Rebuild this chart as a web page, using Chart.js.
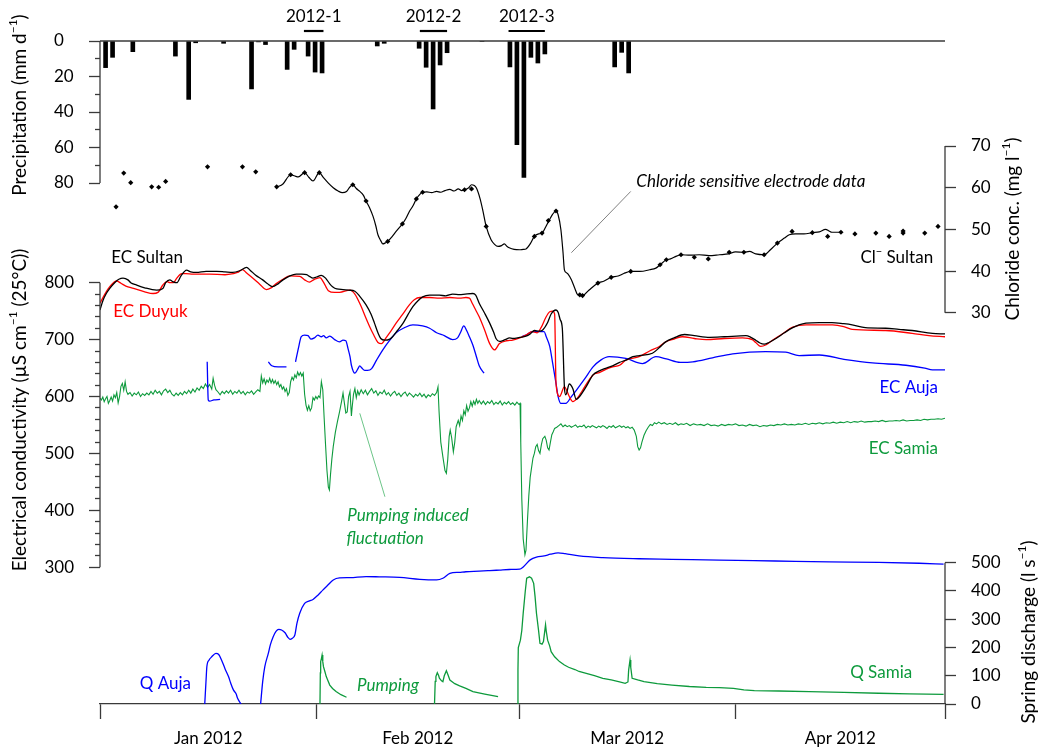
<!DOCTYPE html>
<html>
<head>
<meta charset="utf-8">
<title>Spring EC, chloride and discharge 2012</title>
<script src="https://cdn.jsdelivr.net/npm/chart.js@4.4.1/dist/chart.umd.min.js"></script>
<style>
  html, body { margin: 0; padding: 0; background: #fff; }
</style>
</head>
<body>
<canvas id="chart" width="1040" height="752"></canvas>
<script>
// x values are days since 1 Jan 2012
const monthStarts = [0, 31, 60, 91, 121];
const monthNames = ['Jan 2012', 'Feb 2012', 'Mar 2012', 'Apr 2012'];

const precipTicks = [0, 20, 40, 60, 80];
const clTicks = [30, 40, 50, 60, 70];
const ecTicks = [300, 400, 500, 600, 700, 800];
const qTicks = [0, 100, 200, 300, 400, 500];

// daily precipitation (mm)
const precipDays = [0.8, 1.8, 4.7, 10.8, 12.7, 13.7, 17.7, 21.7, 22.7, 23.7, 26.8, 27.8, 29.8, 30.8, 31.8,
  39.7, 40.7, 45.7, 46.7, 47.7, 48.7, 49.7, 54.7, 58.7, 59.7, 60.7, 61.7, 62.7, 63.7, 73.7, 74.7, 75.7];
const precipMM = [15.0, 9.2, 6.0, 8.5, 32.9, 1.0, 1.3, 27.0, 0.5, 2.0, 16.0, 4.7, 8.5, 17.5, 18.0,
  2.8, 1.3, 4.1, 14.8, 38.3, 13.5, 6.6, 0.3, 14.6, 58.4, 76.8, 9.2, 12.4, 7.3, 14.6, 6.4, 18.0];

// rain events marked above the bars
const eventNames = ['2012-1', '2012-2', '2012-3'];
const eventStart = [29.2, 45.8, 58.5];
const eventEnd = [32.0, 49.7, 63.7];

// chloride, Sultan spring (mg/l): lab samples and electrode record
const clSamples = [[2.3, 55.4], [3.4, 63.5], [4.4, 61.2], [7.4, 60.2], [8.4, 60.1], [9.4, 61.5], [15.4, 65.0],
  [20.4, 65.0], [22.3, 63.8], [25.3, 60.2], [27.3, 63.1], [29.3, 63.6], [31.4, 63.6], [36.2, 60.7], [38.1, 56.8],
  [41.2, 47.1], [43.3, 51.3], [45.3, 57.3], [46.2, 58.9], [52.2, 59.5], [53.2, 59.7], [55.3, 50.7], [62.2, 48.3],
  [63.3, 49.1], [64.2, 52.1], [65.3, 54.4], [68.7, 34.3], [69.1, 34.1], [71.3, 37.1], [73.2, 38.5], [76.0, 39.9],
  [80.2, 41.5], [81.1, 42.7], [83.2, 43.9], [85.1, 43.3], [87.1, 42.9], [90.1, 44.5], [92.2, 44.5], [95.1, 43.9],
  [97.0, 46.7], [99.1, 49.5], [102.0, 49.2], [104.2, 48.3], [106.1, 49.3], [108.1, 48.9], [111.1, 49.1],
  [113.0, 48.3], [115.0, 49.6], [115.0, 49.1], [118.1, 49.1], [120.0, 50.7]];

const clElectrode = [[25.3, 60.1], [26.2, 60.9], [27.3, 63.1], [27.9, 62.8], [28.4, 62.6], [29.3, 63.6], [29.9, 62.5],
  [30.5, 61.6], [31.4, 63.6], [32.0, 62.4], [32.7, 61.1], [33.4, 60.0], [34.1, 59.2], [34.7, 58.8], [35.3, 59.1],
  [35.8, 60.2], [36.2, 60.7], [36.7, 59.8], [37.2, 59.1], [37.7, 58.2], [38.1, 56.8], [38.6, 55.2], [39.1, 53.1],
  [39.5, 50.8], [39.8, 48.7], [40.2, 47.3], [40.5, 46.5], [40.9, 46.8], [41.2, 47.1], [41.8, 48.2], [42.4, 49.5],
  [43.3, 51.3], [43.8, 52.6], [44.3, 54.3], [44.8, 55.6], [45.3, 57.3], [45.8, 58.4], [46.2, 58.9], [46.8, 59.0],
  [47.5, 58.8], [48.2, 59.1], [48.8, 58.9], [49.4, 59.3], [50.1, 59.6], [50.7, 59.2], [51.3, 59.7], [51.8, 59.3],
  [52.2, 59.5], [52.8, 60.0], [53.2, 60.7], [53.6, 60.5], [53.9, 59.9], [54.4, 57.5], [54.8, 54.7], [55.3, 50.7],
  [56.0, 47.5], [56.5, 46.4], [57.0, 45.9], [57.5, 46.1], [57.9, 46.5], [58.3, 45.9], [58.6, 45.6], [59.3, 45.2],
  [60.1, 45.1], [60.6, 45.2], [61.0, 45.3], [61.6, 46.5], [62.2, 48.3], [62.8, 48.9], [63.3, 49.1], [63.8, 50.5],
  [64.3, 52.1], [64.8, 53.6], [65.3, 54.4], [65.6, 53.5], [66.0, 49.9], [66.3, 44.5], [66.5, 40.3], [66.8, 39.6],
  [67.0, 39.3], [67.5, 37.9], [68.0, 35.8], [68.4, 34.3], [69.1, 34.1], [70.0, 35.4], [71.3, 37.1], [72.2, 37.6],
  [73.2, 38.5], [74.2, 38.8], [75.0, 39.4], [76.0, 39.9], [77.3, 39.9], [78.7, 40.3], [79.6, 40.7], [80.2, 41.5],
  [81.1, 42.7], [81.7, 42.9], [82.2, 43.3], [83.2, 43.9], [84.5, 43.8], [85.8, 43.9], [87.2, 43.7], [88.7, 43.9],
  [90.0, 44.1], [91.0, 44.6], [92.2, 44.5], [93.0, 44.7], [93.9, 44.1], [95.1, 43.9], [96.0, 45.1], [97.0, 46.7],
  [98.0, 47.9], [98.7, 48.7], [99.6, 48.9], [100.8, 48.9], [102.0, 49.2], [103.0, 49.4], [103.9, 50.0],
  [104.4, 49.6], [104.8, 49.3], [106.1, 49.3]];

// electrical conductivity (uS/cm at 25 C)
const ecSultan = [[0, 752], [0.4, 768], [0.9, 781], [1.4, 790], [2.1, 800], [2.7, 806], [3.3, 808], [4.0, 805],
  [4.4, 800], [5.2, 796], [6.4, 791], [8.1, 787], [9.0, 790], [9.4, 800], [10.0, 805], [10.4, 802], [11.0, 800],
  [11.6, 812], [12.4, 822], [13.0, 819], [13.8, 818], [15.2, 820], [16.7, 820], [17.9, 819], [19.0, 818],
  [20.0, 821], [21.0, 827], [21.5, 822], [22.3, 813], [23.3, 805], [24.0, 798], [24.7, 793], [25.5, 798],
  [26.2, 805], [27.2, 812], [28.1, 815], [28.9, 815], [29.6, 814], [30.0, 811], [30.5, 808], [31.0, 810],
  [31.7, 813], [32.3, 808], [32.9, 798], [33.3, 793], [33.9, 789], [34.8, 788], [35.6, 787], [36.5, 785],
  [37.2, 776], [38.1, 761], [38.8, 745], [39.3, 729], [39.8, 712], [40.2, 702], [40.8, 699], [41.5, 701],
  [41.9, 705], [42.6, 716], [43.4, 729], [44.1, 744], [44.8, 758], [45.5, 768], [46.2, 775], [47.2, 778],
  [48.6, 778], [49.5, 777], [50.5, 780], [51.5, 779], [52.3, 780], [53.4, 781], [53.8, 778], [54.3, 764],
  [55.1, 746], [55.8, 729], [56.4, 712], [56.7, 702], [57.2, 697], [57.6, 698], [58.2, 701], [58.6, 703],
  [59.1, 702], [60.1, 704], [61.0, 706], [61.6, 710], [62.2, 716], [62.9, 715], [63.4, 717], [64.1, 730],
  [64.6, 745], [65.3, 752], [65.6, 748], [65.9, 735], [66.2, 720], [66.5, 617], [66.7, 603], [67.2, 622],
  [67.7, 614], [68.2, 595], [68.6, 599], [69.6, 617], [70.6, 638], [71.5, 645], [72.5, 650], [73.4, 654],
  [74.4, 660], [75.3, 664], [76.3, 670], [77.2, 672], [79.1, 676], [80.1, 686], [81.0, 696], [82.2, 703],
  [83.7, 709], [85.1, 707], [87.3, 704], [89.4, 705], [92.5, 707], [93.2, 704], [93.9, 699], [94.5, 694],
  [95.1, 692], [95.8, 695], [96.8, 702], [98.0, 712], [99.2, 721], [100.1, 726], [101.1, 729], [103.0, 730],
  [104.8, 730], [106.5, 728], [107.7, 726], [109.6, 721], [112.5, 720], [114.4, 718], [116.3, 716],
  [119.2, 711], [121, 710]];

const ecDuyuk = [[0, 764], [0.7, 780], [1.4, 793], [2.4, 803], [3.0, 799], [3.7, 794], [4.8, 790], [6.4, 784],
  [7.6, 781], [8.3, 783], [9.0, 796], [9.6, 802], [10.0, 800], [10.5, 800], [11.0, 808], [11.7, 816],
  [12.3, 816], [13.3, 815], [15.7, 815], [17.9, 814], [19.1, 816], [19.7, 818], [20.4, 823], [21.0, 817],
  [21.9, 808], [22.9, 797], [23.8, 788], [24.5, 791], [25.3, 799], [26.2, 806], [27.2, 812], [28.6, 811],
  [29.3, 805], [30.0, 801], [30.7, 806], [31.5, 809], [32.0, 801], [32.7, 786], [33.6, 783], [34.3, 783],
  [35.8, 787], [36.5, 780], [37.4, 758], [38.0, 740], [38.6, 723], [39.2, 708], [39.8, 695], [40.3, 693],
  [41.0, 704], [41.6, 714], [42.4, 729], [43.3, 744], [44.3, 761], [45.0, 770], [45.8, 774], [47.2, 774],
  [48.6, 773], [50.1, 774], [51.5, 773], [52.4, 774], [52.9, 773], [53.3, 764], [53.8, 752], [54.3, 740],
  [55.1, 716], [55.8, 693], [56.5, 682], [57.2, 693], [58.2, 698], [59.1, 699], [60.1, 703], [61.0, 708],
  [61.9, 714], [62.6, 712], [63.2, 722], [63.8, 738], [64.4, 749], [64.8, 750], [65.1, 745], [65.3, 623],
  [65.8, 600], [66.5, 617], [67.2, 600], [67.7, 591], [68.4, 598], [69.1, 611], [70.6, 638], [71.5, 642],
  [72.5, 648], [73.4, 652], [74.4, 655], [75.3, 664], [77.2, 670], [78.7, 680], [80.1, 688], [81.0, 696],
  [82.2, 701], [83.4, 705], [85.1, 702], [86.8, 700], [89.4, 702], [92.0, 703], [93.4, 700], [93.9, 695],
  [94.6, 688], [95.4, 691], [96.3, 699], [97.7, 710], [99.2, 722], [101.1, 726], [104.9, 726], [106.5, 723],
  [107.7, 718], [112.5, 716], [116.3, 711], [118.7, 707], [121, 705]];

const ecAuja = [[15.35, 661], [15.5, 594], [15.7, 592], [16.3, 594], [17.2, 595], [20, null],
  [24.1, 661], [24.6, 654], [25.5, 652], [26.7, 652], [27.5, null],
  [28.0, 661], [28.5, 690], [28.8, 705], [29.3, 708], [29.8, 707], [30.2, 701], [30.7, 703], [31.2, 708],
  [31.7, 705], [32.0, 707], [32.4, 703], [32.9, 706], [33.6, 700], [34.3, 696], [34.8, 699], [35.2, 698],
  [35.5, 685], [35.8, 670], [36.0, 655], [36.5, 641], [36.9, 648], [37.2, 654], [37.5, 650], [37.9, 646],
  [38.3, 646], [38.9, 649], [39.6, 664], [40.5, 682], [41.5, 699], [42.4, 712], [43.6, 721], [44.8, 726],
  [46.2, 724], [47.2, 720], [48.2, 712], [49.3, 707], [50.5, 700], [51.2, 703], [51.6, 712], [52.1, 724],
  [52.5, 716], [52.9, 705], [53.4, 690], [53.9, 670], [54.3, 654], [55.0, 641], [57, null],
  [60.5, 706], [61.0, 708], [61.9, 714], [62.9, 714], [63.6, 714], [63.9, 705], [64.4, 688], [64.8, 660],
  [65.3, 623], [65.6, 600], [66.0, 588], [66.7, 588], [67.5, 600], [68.2, 611], [69.4, 631], [70.6, 652],
  [71.7, 664], [72.9, 670], [75.3, 667], [77.7, 658], [79.6, 670], [81.1, 666], [83.1, 660], [84.9, 661],
  [87.7, 668], [90.6, 675], [95.3, 679], [98.2, 678], [100.1, 672], [103.0, 673], [106.8, 665], [110.6, 659],
  [115.4, 655], [118.1, 650], [119.2, 647], [121, 647]];

const ecSamia = [[0, 597], [0.2, 594], [0.4, 599], [0.6, 591], [0.8, 596], [1.0, 600], [1.2, 588], [1.4, 593],
  [1.6, 599], [1.8, 592], [2.0, 603], [2.2, 598], [2.4, 607], [2.6, 589], [2.8, 600], [3.0, 618], [3.2, 623],
  [3.4, 611], [3.6, 626], [3.8, 609], [4.0, 604], [4.3, 607], [4.6, 601], [4.9, 606], [5.2, 603], [5.5, 608],
  [5.8, 600], [6.1, 605], [6.4, 602], [6.7, 606], [7.0, 603], [7.3, 609], [7.6, 604], [7.9, 611], [8.2, 606],
  [8.5, 609], [8.8, 603], [9.1, 610], [9.4, 613], [9.7, 607], [10.0, 611], [10.3, 604], [10.6, 601], [10.9, 606],
  [11.2, 602], [11.5, 607], [11.8, 603], [12.1, 609], [12.4, 605], [12.7, 611], [13.0, 606], [13.3, 613],
  [13.6, 608], [13.9, 615], [14.2, 611], [14.5, 618], [14.8, 614], [15.1, 622], [15.4, 616], [15.7, 621],
  [16.0, 613], [16.2, 632], [16.4, 620], [16.6, 612], [16.9, 608], [17.2, 603], [17.5, 609], [17.8, 605],
  [18.1, 610], [18.4, 606], [18.7, 611], [19.0, 604], [19.3, 609], [19.6, 606], [19.9, 611], [20.2, 605],
  [20.5, 609], [20.8, 603], [21.1, 608], [21.4, 606], [21.7, 610], [22.0, 604], [22.3, 608], [22.6, 612],
  [22.9, 609], [23.1, 636], [23.3, 624], [23.5, 631], [23.7, 622], [23.9, 629], [24.1, 625], [24.3, 632],
  [24.5, 624], [24.7, 630], [24.9, 623], [25.1, 628], [25.3, 621], [25.5, 626], [25.7, 617], [25.9, 621],
  [26.1, 613], [26.3, 617], [26.5, 609], [26.7, 614], [26.9, 602], [27.1, 607], [27.3, 626], [27.5, 634],
  [27.7, 629], [27.9, 638], [28.1, 633], [28.3, 643], [28.5, 637], [28.7, 642], [28.9, 636], [29.1, 641],
  [29.3, 604], [29.5, 585], [29.7, 576], [29.9, 584], [30.1, 575], [30.3, 580], [30.5, 598], [30.7, 594],
  [30.9, 600], [31.1, 596], [31.3, 601], [31.5, 598], [31.7, 626], [31.9, 612], [32.1, 562], [32.3, 515],
  [32.5, 470], [32.7, 441], [32.85, 436], [33.0, 462], [33.2, 490], [33.4, 512], [33.7, 537], [34.0, 556],
  [34.3, 573], [34.6, 592], [34.8, 606], [35.0, 588], [35.2, 571], [35.4, 573], [35.6, 600], [35.8, 609],
  [36.0, 566], [36.1, 580], [36.3, 604], [36.5, 614], [36.7, 598], [36.9, 610], [37.1, 603], [37.4, 612],
  [37.7, 605], [38.0, 611], [38.3, 603], [38.6, 609], [38.9, 614], [39.2, 606], [39.5, 610], [39.8, 602],
  [40.1, 608], [40.4, 605], [40.7, 611], [41.0, 603], [41.3, 607], [41.6, 601], [41.9, 606], [42.2, 609],
  [42.5, 602], [42.8, 606], [43.1, 600], [43.4, 605], [43.7, 608], [44.0, 601], [44.3, 606], [44.6, 603],
  [44.9, 599], [45.2, 604], [45.5, 601], [45.8, 606], [46.1, 600], [46.4, 604], [46.7, 598], [47.0, 603],
  [47.3, 600], [47.6, 605], [47.9, 602], [48.2, 607], [48.4, 617], [48.55, 574], [48.8, 520], [49.1, 494],
  [49.4, 470], [49.6, 465], [49.8, 490], [50.0, 530], [50.15, 541], [50.35, 528], [50.6, 503], [50.8, 520],
  [51.0, 547], [51.3, 558], [51.5, 549], [51.7, 566], [51.9, 558], [52.1, 575], [52.3, 568], [52.5, 584],
  [52.7, 574], [52.9, 580], [53.1, 591], [53.3, 583], [53.5, 592], [53.7, 586], [53.9, 595], [54.1, 588],
  [54.3, 593], [54.6, 587], [54.9, 592], [55.2, 586], [55.5, 591], [55.8, 588], [56.1, 593], [56.4, 586],
  [56.7, 590], [57.0, 587], [57.3, 592], [57.6, 585], [57.9, 590], [58.2, 587], [58.5, 591], [58.8, 586],
  [59.1, 589], [59.4, 585], [59.7, 590], [60.0, 586], [60.15, 588], [60.25, 520], [60.4, 420], [60.6, 350],
  [60.85, 322], [61.0, 330], [61.2, 380], [61.4, 425], [61.6, 458], [61.8, 475], [62.0, 492], [62.2, 500],
  [62.4, 512], [62.6, 516], [62.8, 505], [63.0, 500], [63.2, 515], [63.4, 526], [63.7, 530], [63.9, 523],
  [64.1, 510], [64.3, 506], [64.5, 520], [64.7, 533], [64.9, 538], [65.1, 544], [65.4, 546], [65.7, 549],
  [66.0, 552], [66.3, 547], [66.6, 550], [66.9, 547], [67.2, 549], [67.5, 546], [67.8, 548], [68.1, 550],
  [68.4, 546], [68.7, 548], [69.0, 547], [69.3, 550], [69.6, 545], [69.9, 548], [70.2, 546], [70.5, 549],
  [70.8, 547], [71.1, 545], [71.4, 548], [71.7, 546], [72.0, 549], [72.3, 547], [72.6, 544], [72.9, 548],
  [73.2, 546], [73.5, 549], [73.8, 545], [74.1, 547], [74.4, 549], [74.7, 546], [75.0, 548], [75.3, 545],
  [75.6, 547], [75.9, 544], [76.2, 546], [76.5, 541], [76.8, 530], [77.0, 512], [77.2, 506], [77.4, 510],
  [77.6, 520], [77.9, 532], [78.2, 540], [78.5, 546], [78.8, 551], [79.1, 549], [79.4, 554], [79.7, 552],
  [80.0, 555], [80.4, 552], [80.8, 554], [81.2, 551], [81.6, 553], [82.0, 551], [82.4, 554], [82.8, 550],
  [83.2, 552], [83.6, 551], [84.0, 553], [84.5, 549], [85.0, 552], [85.5, 550], [86.0, 551], [86.5, 549],
  [87.0, 552], [87.5, 549], [88.0, 550], [88.5, 548], [89.0, 551], [89.5, 549], [90.0, 551], [90.5, 550],
  [91.0, 552], [91.5, 549], [92.0, 550], [92.5, 548], [93.0, 551], [93.5, 549], [94.0, 550], [94.5, 547],
  [95.0, 549], [95.5, 548], [96.0, 550], [96.5, 549], [97.0, 551], [97.5, 550], [98.0, 552], [98.5, 550],
  [99.0, 551], [99.5, 550], [100.0, 552], [100.5, 551], [101.0, 553], [101.5, 551], [102.0, 553],
  [102.5, 552], [103.0, 554], [103.5, 552], [104.0, 554], [104.5, 553], [105.0, 555], [105.5, 553],
  [106.0, 555], [106.5, 554], [107.0, 556], [107.5, 554], [108.0, 556], [108.5, 555], [109.0, 557],
  [109.5, 555], [110.0, 556], [110.5, 556], [111.0, 557], [111.5, 556], [112.0, 558], [112.5, 556],
  [113.0, 557], [113.5, 557], [114.0, 558], [114.5, 557], [115.0, 559], [115.5, 557], [116.0, 558],
  [116.5, 558], [117.0, 559], [117.5, 558], [118.0, 560], [118.5, 559], [119.0, 560], [119.5, 560],
  [120.0, 561], [120.5, 560], [121.0, 562]];

// spring discharge (l/s)
const qAuja = [[15.0, 0], [15.2, 90], [15.3, 132], [15.6, 155], [16.0, 167], [16.6, 179], [17.0, 175],
  [17.4, 156], [17.9, 125], [18.4, 97], [18.7, 75], [19.1, 50], [19.5, 35], [19.7, 20], [20.2, 0], [21.5, null],
  [23.0, 0], [23.3, 80], [23.6, 132], [24.1, 179], [24.4, 210], [24.8, 238], [25.2, 257], [25.6, 264],
  [26.0, 262], [26.5, 252], [26.9, 236], [27.2, 229], [27.5, 232], [27.9, 244], [28.2, 285], [28.6, 321],
  [29.3, 356], [30.0, 365], [30.5, 370], [31.2, 385], [31.9, 403], [32.6, 420], [33.4, 439], [34.3, 446],
  [35.8, 447], [38.1, 451], [40.0, 450], [42.9, 448], [45.8, 441], [48.2, 439], [49.1, 445], [50.1, 462],
  [51.5, 466], [52.4, 468], [54.3, 470], [55.8, 472], [57.2, 474], [58.6, 476], [60.1, 477], [60.6, 485],
  [61.6, 510], [62.5, 520], [63.6, 524], [64.5, 530], [65.6, 535], [66.6, 532], [68.6, 524], [72.0, 518],
  [77.2, 514], [81.9, 512], [88.7, 509], [96.7, 506], [104.4, 503], [111.5, 501], [117.3, 498], [120.8, 495]];

const qSamia = [[31.5, 0], [31.55, 110], [31.6, 150], [31.7, 160], [31.8, 173], [31.9, 150], [32.0, 132],
  [32.2, 115], [32.4, 97], [32.6, 85], [32.9, 67], [33.3, 55], [33.8, 44], [34.5, 33], [35.3, 24], [40, null],
  [47.9, 0], [48.0, 80], [48.1, 97], [48.3, 111], [48.5, 100], [48.6, 91], [48.9, 82], [49.1, 79], [49.3, 100],
  [49.6, 118], [49.8, 105], [50.1, 85], [50.8, 72], [51.5, 64], [52.4, 55], [53.4, 44], [55.1, 35], [57.0, 26],
  [58, null],
  [59.8, 0], [59.85, 120], [59.9, 200], [60.2, 226], [60.4, 260], [60.6, 321], [60.9, 400], [61.1, 445],
  [61.5, 450], [61.8, 445], [62.1, 427], [62.3, 380], [62.5, 321], [62.8, 260], [63.0, 215], [63.3, 212],
  [63.5, 221], [63.8, 280], [63.9, 258], [64.1, 226], [64.4, 205], [64.6, 185], [65.1, 167], [65.8, 150],
  [66.5, 138], [67.1, 130], [68.0, 122], [68.6, 115], [69.5, 109], [70.8, 100], [72.0, 91], [73.2, 85],
  [74.4, 78], [75.2, 73], [75.6, 78], [75.7, 120], [75.9, 156], [76.0, 130], [76.2, 91], [77.0, 85], [77.9, 79],
  [79.8, 72], [81.9, 67], [84.4, 62], [86.8, 59], [88.7, 58], [90.7, 55], [92.2, 50], [93.7, 47], [97.2, 46],
  [101.6, 44], [106.5, 41], [111.5, 38], [115.9, 36], [120.8, 34]];

const FONT = 'Lato, "Open Sans", sans-serif';
const AXIS = '#3a3a3a';
const BLACK = '#000000';
const RED = '#ff0000';
const BLUE = '#0000ff';
const GREEN = '#0d9a3c';

// plot area in canvas pixels; every y axis spans it, only part of it is drawn
const AREA = { top: 41, bottom: 704, left: 100, right: 945 };

// min/max that put value v1 at pixel p1 and v2 at pixel p2
function rangeFor(v1, p1, v2, p2) {
  const k = (v2 - v1) / (p2 - p1);
  const a = v1 + (AREA.top - p1) * k;
  const b = v1 + (AREA.bottom - p1) * k;
  return { min: Math.min(a, b), max: Math.max(a, b) };
}

const zeroWidth = s => { s.width = 0; };
const useTicks = list => s => { s.ticks = list.map(v => ({ value: v })); };

const xTicks = [];
const xLabels = [];
monthStarts.forEach((d, i) => {
  xTicks.push(d); xLabels.push('');
  if (i < monthNames.length) {
    xTicks.push((d + monthStarts[i + 1]) / 2);
    xLabels.push(monthNames[i]);
  }
});

function tickOpts(len) {
  return { drawOnChartArea: false, offset: false, tickLength: len, tickWidth: 1.3, tickColor: AXIS };
}

function yScale(position, range, ticks, extra) {
  return Object.assign({
    type: 'linear', position, min: range.min, max: range.max,
    afterFit: zeroWidth,
    afterBuildTicks: useTicks(ticks),
    grid: tickOpts(11),
    border: { display: false },
    ticks: { padding: 15, font: { size: 17 }, callback: v => String(v) }
  }, extra || {});
}

const pRange = rangeFor(0, 41, 80, 183);
const ecRange = rangeFor(800, 282.7, 300, 567.3);
const clRange = rangeFor(70, 146, 30, 312.7);
const qRange = rangeFor(500, 562.7, 0, 704);

const minorP = [10, 30, 50, 70];
const minorEC = [];
for (let v = 320; v < 800; v += 20) if (v % 100) minorEC.push(v);

function series(data, color, axis, extra) {
  return Object.assign({
    type: 'line', data, yAxisID: axis, borderColor: color, borderWidth: 1.3,
    pointRadius: 0, cubicInterpolationMode: 'monotone', spanGaps: false
  }, extra || {});
}

// rich text: parts are [text, isSuperscript]
function drawRich(ctx, parts, x, y, size, align, italic) {
  const style = italic ? 'italic ' : '';
  const big = `${style}${size}px ${FONT}`;
  const small = `${style}${Math.round(size * 0.64)}px ${FONT}`;
  let w = 0;
  parts.forEach(([t, sup]) => { ctx.font = sup ? small : big; w += ctx.measureText(t).width; });
  let cx = align === 'center' ? x - w / 2 : align === 'right' ? x - w : x;
  ctx.textAlign = 'left';
  ctx.textBaseline = 'middle';
  parts.forEach(([t, sup]) => {
    ctx.font = sup ? small : big;
    ctx.fillText(t, cx, sup ? y - size * 0.36 : y);
    cx += ctx.measureText(t).width;
  });
}

const notes = [
  { parts: [['EC Sultan']], axis: 'yEC', x: 1.6, y: 845, color: BLACK, align: 'left' },
  { parts: [['EC Duyuk']], axis: 'yEC', x: 1.9, y: 750, color: RED, align: 'left' },
  { parts: [['EC Auja']], axis: 'yEC', x: 120.0, y: 616, color: BLUE, align: 'right' },
  { parts: [['EC Samia']], axis: 'yEC', x: 120.0, y: 508, color: GREEN, align: 'right' },
  { parts: [['Cl'], ['−', true], [' Sultan']], axis: 'yCl', x: 119.3, y: 43.2, color: BLACK, align: 'right' },
  { parts: [['Chloride sensitive electrode data']], axis: 'yCl', x: 76.8, y: 61.4, color: BLACK, align: 'left', italic: true },
  { parts: [['Pumping induced']], axis: 'yEC', x: 35.4, y: 390.6, color: GREEN, align: 'left', italic: true },
  { parts: [['fluctuation']], axis: 'yEC', x: 35.3, y: 349.7, color: GREEN, align: 'left', italic: true },
  { parts: [['Q Auja']], axis: 'yQ', x: 5.7, y: 71, color: BLUE, align: 'left' },
  { parts: [['Pumping']], axis: 'yQ', x: 36.8, y: 65, color: GREEN, align: 'left', italic: true },
  { parts: [['Q Samia']], axis: 'yQ', x: 116.3, y: 113, color: GREEN, align: 'right' }
];

const leaders = [
  { axis: 'yCl', from: [76.0, 59.1], to: [67.5, 44.4], color: '#808080' },
  { axis: 'yEC', from: [37.2, 570.5], to: [40.8, 424], color: '#6cc588' }
];

const titles = [
  { parts: [['Precipitation (mm d'], ['−1', true], [')']], x: 20, y: 105 },
  { parts: [['Electrical conductivity (µS cm'], ['−1', true], [' (25°C))']], x: 20, y: 410 },
  { parts: [['Chloride conc. (mg l'], ['−1', true], [')']], x: 1013, y: 229 },
  { parts: [['Spring discharge (l s'], ['−1', true], [')']], x: 1029, y: 632 }
];

// zero-width side axes clip their labels to their own box; give the labels room.
// precipitation labels sit flush left from x = 54
const labelRoom = {
  id: 'labelRoom',
  afterLayout(chart) {
    Object.values(chart.scales).forEach(s => {
      if (s.options.position === 'left') s.left = s.id === 'yP' ? 54 : 0;
      if (s.options.position === 'right') s.right = chart.width;
    });
  }
};

const decor = {
  id: 'decor',
  afterDatasetsDraw(chart) {
    const { ctx, scales: s } = chart;
    const X = v => s.x.getPixelForValue(v);
    const left = X(0), right = X(121);
    const seg = (x1, y1, x2, y2) => { ctx.beginPath(); ctx.moveTo(x1, y1); ctx.lineTo(x2, y2); ctx.stroke(); };
    ctx.save();

    // axis lines over the value range each axis covers
    ctx.strokeStyle = AXIS;
    ctx.lineWidth = 1.3;
    const p0 = s.yP.getPixelForValue(0);
    seg(left, p0, right, p0);
    seg(left, p0, left, s.yP.getPixelForValue(80));
    seg(left, s.yEC.getPixelForValue(800), left, s.yEC.getPixelForValue(300));
    seg(right, s.yCl.getPixelForValue(70), right, s.yCl.getPixelForValue(30));
    seg(right, s.yQ.getPixelForValue(500), right, s.yQ.getPixelForValue(0));

    // rain event markers
    ctx.strokeStyle = BLACK;
    ctx.fillStyle = BLACK;
    ctx.lineWidth = 2.2;
    eventNames.forEach((name, i) => {
      seg(X(eventStart[i]), p0 - 10, X(eventEnd[i]), p0 - 10);
      drawRich(ctx, [[name]], (X(eventStart[i]) + X(eventEnd[i])) / 2, p0 - 24, 17, 'center');
    });

    // leader lines
    ctx.lineWidth = 1;
    leaders.forEach(l => {
      ctx.strokeStyle = l.color;
      seg(X(l.from[0]), s[l.axis].getPixelForValue(l.from[1]), X(l.to[0]), s[l.axis].getPixelForValue(l.to[1]));
    });

    notes.forEach(n => {
      ctx.fillStyle = n.color;
      drawRich(ctx, n.parts, X(n.x), s[n.axis].getPixelForValue(n.y), 17, n.align, n.italic);
    });

    ctx.fillStyle = BLACK;
    titles.forEach(t => {
      ctx.save();
      ctx.translate(t.x, t.y);
      ctx.rotate(-Math.PI / 2);
      drawRich(ctx, t.parts, 0, 0, 19, 'center');
      ctx.restore();
    });
    ctx.restore();
  }
};

Chart.defaults.font.family = FONT;
Chart.defaults.font.size = 17;
Chart.defaults.color = BLACK;

new Chart(document.getElementById('chart'), {
  type: 'line',
  data: {
    datasets: [
      series(clSamples, BLACK, 'yCl', { showLine: false, pointRadius: 2.6, pointStyle: 'rectRot', pointBackgroundColor: BLACK, pointBorderWidth: 0 }),
      series(clElectrode, BLACK, 'yCl', { borderWidth: 1.2 }),
      series(ecSultan, BLACK, 'yEC'),
      series(ecDuyuk, RED, 'yEC'),
      series(ecAuja, BLUE, 'yEC'),
      series(ecSamia, GREEN, 'yEC', { cubicInterpolationMode: 'default', tension: 0, borderWidth: 1.1 }),
      series(qAuja, BLUE, 'yQ'),
      series(qSamia, GREEN, 'yQ', { cubicInterpolationMode: 'default', tension: 0 }),
      {
        type: 'bar', yAxisID: 'yP', backgroundColor: BLACK, barThickness: 4,
        data: precipDays.map((d, i) => ({ x: d, y: precipMM[i] }))
      }
    ]
  },
  options: {
    responsive: false,
    animation: false,
    events: [],
    layout: { padding: { top: AREA.top, left: AREA.left, right: 1040 - AREA.right, bottom: 0 } },
    plugins: { legend: { display: false }, tooltip: { enabled: false } },
    scales: {
      x: {
        type: 'linear', min: 0, max: 121, offset: false,
        afterBuildTicks: useTicks(xTicks),
        afterFit: s => { s.height = 752 - AREA.bottom; },
        ticks: { autoSkip: false, maxRotation: 0, padding: 9, font: { size: 17 }, callback: (v, i) => xLabels[i] },
        grid: {
          drawOnChartArea: false, offset: false, tickLength: 15, tickWidth: 1.3,
          tickColor: c => (c.tick && monthStarts.includes(c.tick.value)) ? AXIS : 'rgba(0,0,0,0)'
        },
        border: { color: AXIS, width: 1.3 }
      },
      yP: yScale('left', pRange, precipTicks, {
        reverse: true,
        ticks: { padding: 15, crossAlign: 'far', font: { size: 17 }, callback: v => String(v) }
      }),
      yPm: yScale('left', pRange, minorP, { reverse: true, grid: tickOpts(5), ticks: { display: false } }),
      yEC: yScale('left', ecRange, ecTicks),
      yECm: yScale('left', ecRange, minorEC, { grid: tickOpts(5), ticks: { display: false } }),
      yCl: yScale('right', clRange, clTicks),
      yQ: yScale('right', qRange, qTicks)
    }
  },
  plugins: [labelRoom, decor]
});
</script>
</body>
</html>
